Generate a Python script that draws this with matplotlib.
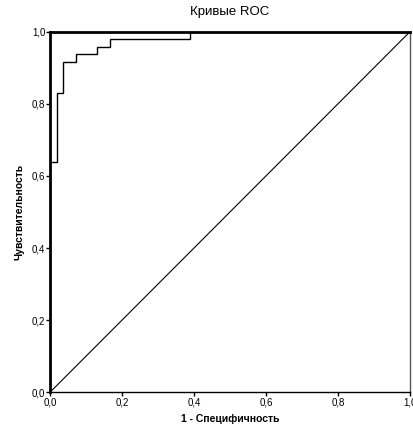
import matplotlib
matplotlib.use('Agg')
import matplotlib.pyplot as plt

# === ROC curve data ===
fpr = [0.0, 0.0, 0.019, 0.019, 0.035, 0.035, 0.072, 0.072, 0.13, 0.13, 0.167, 0.167, 0.389, 0.389, 1.0]
tpr = [0.0, 0.64, 0.64, 0.831, 0.831, 0.917, 0.917, 0.938, 0.938, 0.959, 0.959, 0.98, 0.98, 1.0, 1.0]
ticks = [0.0, 0.2, 0.4, 0.6, 0.8, 1.0]
tick_labels = ['0,0', '0,2', '0,4', '0,6', '0,8', '1,0']

plt.rcParams['font.family'] = ['Liberation Sans', 'DejaVu Sans']

fig = plt.figure(figsize=(4.14, 4.30), dpi=100)
ax = fig.add_axes([0.121, 0.088, 0.869, 0.838])

ax.plot([0, 1], [0, 1], color='black', lw=0.8)
ax.plot(fpr, tpr, color='black', lw=1.0, solid_joinstyle='miter')

ax.set_xlim(0, 1)
ax.set_ylim(0, 1)
ax.set_xticks(ticks)
ax.set_xticklabels(tick_labels)
ax.set_yticks(ticks)
ax.set_yticklabels(tick_labels)
ax.tick_params(labelsize=7, length=3, width=1, pad=0.5)

ax.spines['left'].set_linewidth(2)
ax.spines['top'].set_linewidth(2)
ax.spines['bottom'].set_linewidth(1)
ax.spines['right'].set_linewidth(1)
ax.spines['right'].set_color('#555555')

ax.set_title('Кривые ROC', fontsize=9.5, pad=12)
ax.set_xlabel('1 - Специфичность', fontsize=7.5, fontweight='bold', labelpad=5)
ax.set_ylabel('Чувствительность', fontsize=7.5, fontweight='bold', labelpad=5)

fig.savefig('out.png', dpi=100)
